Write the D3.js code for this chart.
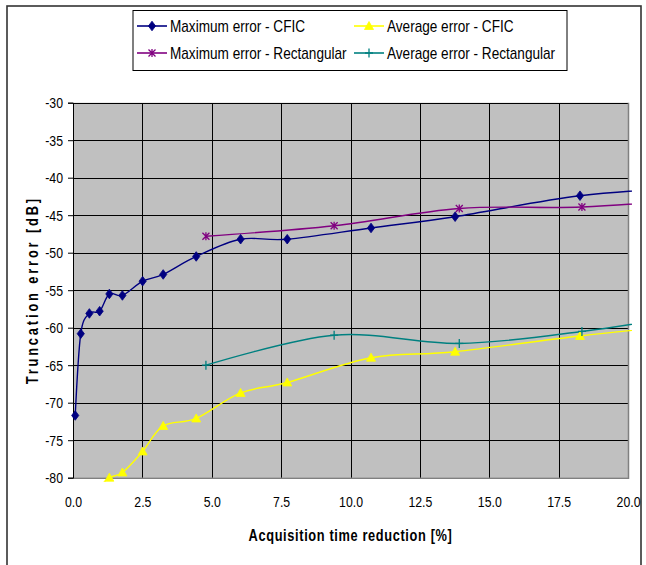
<!DOCTYPE html>
<html>
<head>
<meta charset="utf-8">
<script src="https://cdn.jsdelivr.net/npm/d3@7/dist/d3.min.js"></script>
<style>
  html, body { margin: 0; padding: 0; background: #fff; }
  svg { display: block; }
  text { font-family: "Liberation Sans", Arial, sans-serif; fill: #000; }
</style>
</head>
<body>
<svg id="chart" width="646" height="565"></svg>
<script>
// Truncation error vs. acquisition time reduction
const xTicks = [0, 2.5, 5, 7.5, 10, 12.5, 15, 17.5, 20];
const yTicks = [-30, -35, -40, -45, -50, -55, -60, -65, -70, -75, -80];

// CFIC sampling: reduction [%] and errors [dB]
const cficX   = [0.08, 0.28, 0.59, 0.96, 1.31, 1.78, 2.51, 3.25, 4.44, 6.04, 7.72, 10.74, 13.77, 18.27, 22.8];
const cficMax = [-71.7, -60.8, -58.1, -57.8, -55.5, -55.7, -53.8, -52.9, -50.5, -48.2, -48.2, -46.7, -45.2, -42.4, -41.2];
const cficAvgX = [0.96, 1.31, 1.78, 2.51, 3.25, 4.44, 6.04, 7.72, 10.74, 13.77, 18.27, 22.8];
const cficAvg  = [-81.2, -80.0, -79.3, -76.5, -73.1, -72.1, -68.7, -67.3, -64.0, -63.2, -61.1, -59.4];

// Rectangular sampling
const rectX   = [4.79, 9.41, 13.92, 18.34, 22.8];
const rectMax = [-47.8, -46.4, -44.1, -43.9, -42.7];
const rectAvg = [-65.0, -61.0, -62.1, -60.5, -57.9];

const seriesNames = [
  "Maximum error - CFIC", "Average error - CFIC",
  "Maximum error - Rectangular", "Average error - Rectangular"
];
const seriesColors = ["#000080", "#FFFF00", "#800080", "#008080"];

const series = [
  { name: seriesNames[0], color: seriesColors[0], marker: "diamond",  xs: cficX,    ys: cficMax },
  { name: seriesNames[1], color: seriesColors[1], marker: "triangle", xs: cficAvgX, ys: cficAvg },
  { name: seriesNames[2], color: seriesColors[2], marker: "star",     xs: rectX,    ys: rectMax },
  { name: seriesNames[3], color: seriesColors[3], marker: "plus",     xs: rectX,    ys: rectAvg }
];

const NARROW = 0.82; // horizontal squeeze for a narrow sans look

const svg = d3.select("#chart");
const plot = { left: 73, top: 102.7, right: 628, bottom: 477.7 };

const x = d3.scaleLinear().domain([0, 20]).range([plot.left, plot.right]);
const y = d3.scaleLinear().domain([-80, -30]).range([plot.bottom, plot.top]);

// condense axis tick text horizontally while keeping its anchor point
function condense(sel, s) {
  sel.each(function () {
    const t = d3.select(this);
    const tx = +t.attr("x") || 0;
    t.attr("x", tx / s).attr("transform", `scale(${s},1)`);
  });
}

// outer frame
svg.append("rect")
  .attr("x", 7).attr("y", 6).attr("width", 634).attr("height", 600)
  .attr("fill", "none").attr("stroke", "#333").attr("stroke-width", 1.6);

// plot background
svg.append("rect")
  .attr("x", plot.left).attr("y", plot.top)
  .attr("width", plot.right - plot.left).attr("height", plot.bottom - plot.top)
  .attr("fill", "#C0C0C0");

// gridlines
const grid = svg.append("g").attr("shape-rendering", "crispEdges");
grid.selectAll("line.h").data(yTicks).join("line")
  .attr("x1", plot.left).attr("x2", plot.right)
  .attr("y1", d => Math.round(y(d)) + 0.5).attr("y2", d => Math.round(y(d)) + 0.5)
  .attr("stroke", "#000").attr("stroke-width", 1);
grid.selectAll("line.v").data(xTicks.slice(1, -1)).join("line")
  .attr("y1", plot.top).attr("y2", plot.bottom)
  .attr("x1", d => Math.round(x(d)) + 0.5).attr("x2", d => Math.round(x(d)) + 0.5)
  .attr("stroke", "#000").attr("stroke-width", 1);

// plot area border (right/bottom gray)
svg.append("path")
  .attr("d", `M${plot.right + 0.5},${plot.top} V${plot.bottom + 0.5} H${plot.left}`)
  .attr("fill", "none").attr("stroke", "#808080").attr("stroke-width", 1.5);

// axes
const yAxis = svg.append("g")
  .attr("transform", `translate(${plot.left},0)`)
  .call(d3.axisLeft(y).tickValues(yTicks).tickSize(5).tickPadding(5).tickFormat(d => String(d)));
yAxis.select(".domain").attr("stroke", "#000");
yAxis.selectAll("text").attr("font-size", 15).call(condense, NARROW);

const xAxis = svg.append("g")
  .attr("transform", `translate(0,${plot.bottom})`)
  .call(d3.axisBottom(x).tickValues(xTicks).tickSize(0).tickPadding(19).tickFormat(d3.format(".1f")));
xAxis.select(".domain").remove();
xAxis.selectAll("text").attr("font-size", 15).call(condense, NARROW);

// axis titles
svg.append("g")
  .attr("transform", `translate(${(plot.left + plot.right) / 2},541) scale(0.8,1)`)
  .append("text")
  .attr("text-anchor", "middle").attr("font-size", 16).attr("font-weight", "bold")
  .attr("letter-spacing", 0.8)
  .text("Acquisition time reduction [%]");
svg.append("g")
  .attr("transform", `translate(38,${(plot.top + plot.bottom) / 2}) rotate(-90) scale(0.8,1)`)
  .append("text")
  .attr("text-anchor", "middle").attr("font-size", 16).attr("font-weight", "bold")
  .attr("letter-spacing", 3.6)
  .text("Truncation error [dB]");

// clip for series lines
svg.append("clipPath").attr("id", "plotClip")
  .append("rect")
  .attr("x", plot.left).attr("y", plot.top)
  .attr("width", plot.right - plot.left + 4).attr("height", plot.bottom - plot.top + 4);

const line = d3.line().curve(d3.curveCardinal.tension(0));

function markerPath(type) {
  switch (type) {
    case "diamond":  return "M0,-4.8 L3.6,0 L0,4.8 L-3.6,0 Z";
    case "triangle": return "M0,-4.5 L4.5,3.5 L-4.5,3.5 Z";
    case "star":     return "M-3.5,-3.5 L3.5,3.5 M3.5,-3.5 L-3.5,3.5 M0,-4 L0,4";
    case "plus":     return "M-4,0 L4,0 M0,-4.5 L0,4.5";
  }
}
function drawMarker(g, type, color) {
  const p = g.append("path").attr("d", markerPath(type));
  if (type === "diamond" || type === "triangle") p.attr("fill", color).attr("stroke", color).attr("stroke-width", 0.8);
  else p.attr("fill", "none").attr("stroke", color).attr("stroke-width", 1.3);
}

const seriesLayer = svg.append("g");
series.forEach(s => {
  const pts = s.xs.map((v, i) => [x(v), y(s.ys[i])]);
  seriesLayer.append("path")
    .attr("d", line(pts))
    .attr("clip-path", "url(#plotClip)")
    .attr("fill", "none").attr("stroke", s.color).attr("stroke-width", 1.4);
});
series.forEach(s => {
  s.xs.forEach((v, i) => {
    if (v > 20 || s.ys[i] < -80.5) return;
    const g = seriesLayer.append("g").attr("transform", `translate(${x(v)},${y(s.ys[i])})`);
    drawMarker(g, s.marker, s.color);
  });
});

// legend
const legend = svg.append("g");
legend.append("rect")
  .attr("x", 133).attr("y", 10.5).attr("width", 434).attr("height", 60)
  .attr("fill", "#fff").attr("stroke", "#000").attr("stroke-width", 1);
const legendPos = [
  { x: 137, y: 26 }, { x: 354, y: 26 },
  { x: 137, y: 53 }, { x: 354, y: 53 }
];
series.forEach((s, i) => {
  const p = legendPos[i];
  const g = legend.append("g").attr("transform", `translate(${p.x},${p.y})`);
  g.append("line").attr("x1", 0).attr("x2", 30).attr("y1", 0).attr("y2", 0)
    .attr("stroke", s.color).attr("stroke-width", 1.6);
  const m = g.append("g").attr("transform", "translate(15,0)");
  drawMarker(m, s.marker, s.color);
  g.append("g").attr("transform", `translate(33,0) scale(0.85,1)`)
    .append("text").attr("dy", "0.35em")
    .attr("font-size", 16).text(s.name);
});
</script>
</body>
</html>
